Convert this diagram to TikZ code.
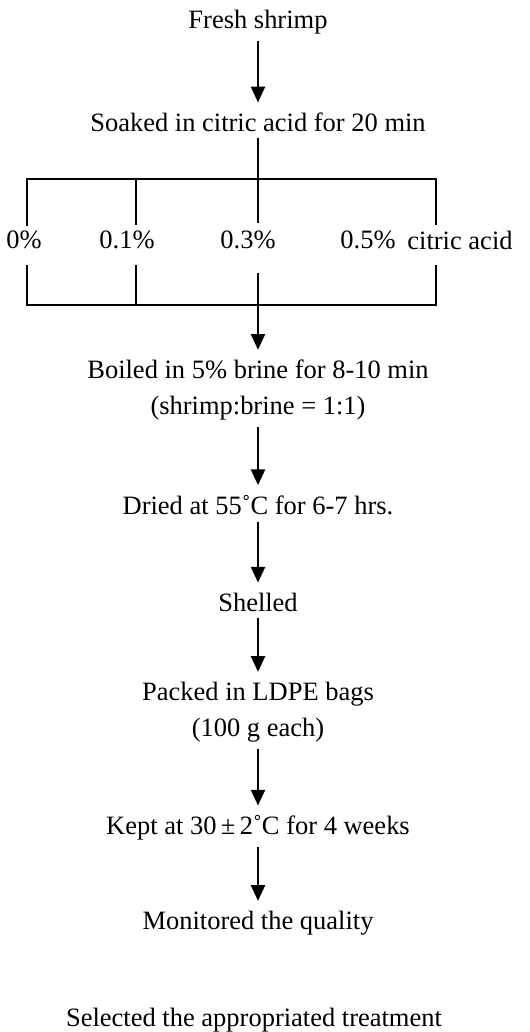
\documentclass[tikz,border=0pt]{standalone}
\usepackage{fontspec}
\setmainfont{Liberation Serif}
\usetikzlibrary{arrows.meta, positioning}
\tikzset{
	stepnode/.style={
			align=center,
			inner sep=3pt,
			font=\fontsize{12.5}{17}\selectfont
		},
	labelnode/.style={
			inner sep=2pt,
			font=\fontsize{12.5}{17}\selectfont
		},
	flowline/.style={
			line width=1.4pt
		},
	flowarrow/.style={
			flowline,
			-{Triangle[length=7.5pt,width=6.5pt]},
			shorten >=1.5pt
		}
}

\begin{document}
\begin{tikzpicture}[x=0.472pt, y=-0.472pt]
\useasboundingbox (0,0) rectangle (529,1032);
\node[stepnode] (n1) at (258,22)  {Fresh shrimp};
\node[stepnode] (n2) at (258,122) {Soaked in citric acid for 20 min};
\node[stepnode] (n3) at (258,390) {Boiled in 5\% brine for 8-10 min\\(shrimp:brine = 1:1)};
\node[stepnode] (n4) at (258,505) {Dried at 55˚C for 6-7 hrs.};
\node[stepnode] (n5) at (258,602) {Shelled};
\node[stepnode] (n6) at (258,712) {Packed in LDPE bags\\(100 g each)};
\node[stepnode] (n7) at (258,828) {Kept at 30\,±\,2˚C for 4 weeks};
\node[stepnode] (n8) at (258,923) {Monitored the quality};
\node[stepnode] (n9) at (254,1020) {Selected the appropriated treatment};

% concentrations
\node[labelnode] (c0) at (24,240)  {0\%};
\node[labelnode] (c1) at (127,240) {0.1\%};
\node[labelnode] (c3) at (248,240) {0.3\%};
\node[labelnode] (c5) at (368,240) {0.5\%};
\node[labelnode] (ca) at (460,240) {citric acid};

% split bracket
\coordinate (t0) at (27,179);
\coordinate (t1) at (136,179);
\coordinate (t5) at (436,179);
\coordinate (a0) at (27,226);
\coordinate (a1) at (136,225);
\coordinate (a3) at (258,223);
\coordinate (a5) at (436,225);

% join bracket
\coordinate (b0) at (27,265);
\coordinate (b1) at (136,265);
\coordinate (b3) at (258,273);
\coordinate (b5) at (436,265);
\coordinate (d0) at (27,305);
\coordinate (d1) at (136,305);
\coordinate (d5) at (436,305);

\draw[flowarrow] (n1) -- (n2);
\draw[flowline] (n2) -- (a3);
\draw[flowline] (a0) -- (t0) -- (t5) -- (a5);
\draw[flowline] (t1) -- (a1);

\draw[flowline] (b0) -- (d0) -- (d5) -- (b5);
\draw[flowline] (b1) -- (d1);
\draw[flowarrow] (b3) -- (n3);

\draw[flowarrow] (n3) -- (n4);
\draw[flowarrow] (n4) -- (n5);
\draw[flowarrow] (n5) -- (n6);
\draw[flowarrow] (n6) -- (n7);
\draw[flowarrow] (n7) -- (n8);
\end{tikzpicture}
\end{document}
